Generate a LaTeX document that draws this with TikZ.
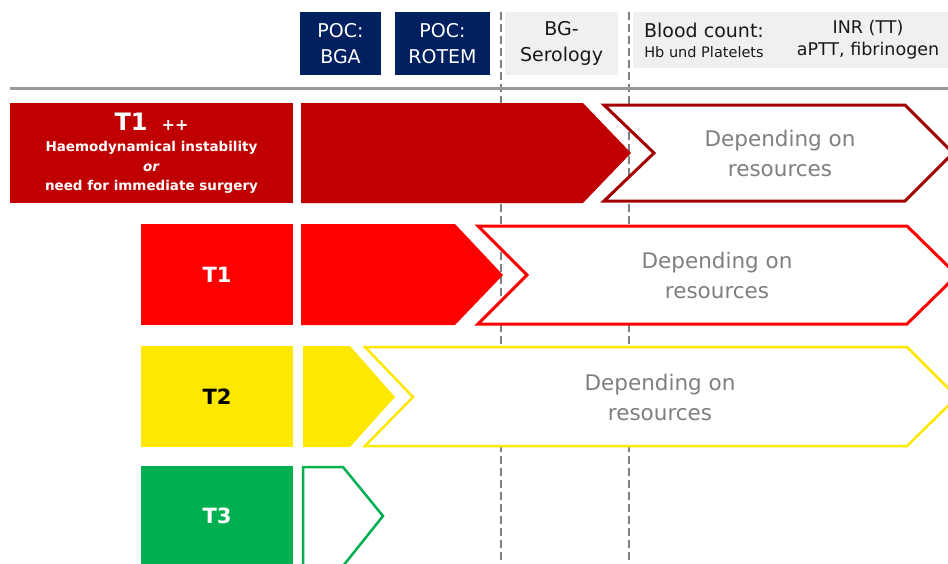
\documentclass[tikz,border=0pt]{standalone}
\usepackage{fontspec}
\setmainfont{DejaVu Sans}
\usetikzlibrary{positioning}
\usepackage{xcolor}

\definecolor{pocblue}{HTML}{002060}
\definecolor{labgray}{HTML}{F0F0F0}
\definecolor{tdark}{HTML}{C00000}
\definecolor{tred}{HTML}{FF0000}
\definecolor{tyellow}{HTML}{FFE800}
\definecolor{tgreen}{HTML}{00B050}
\definecolor{restext}{HTML}{7F7F7F}

\begin{document}
\begin{tikzpicture}[
    x=1pt, y=-1pt,
    every node/.style={inner sep=0pt, align=center},
    pocbox/.style={fill=pocblue, text=white, minimum height=63pt, font=\fontsize{19}{26}\selectfont},
    labbox/.style={fill=labgray, text=black!90},
    tbox/.style={minimum height=101pt, font=\bfseries\fontsize{21}{24}\selectfont},
    restxt/.style={text=restext, font=\fontsize{21.5}{30}\selectfont},
    outarrow/.style={line width=3pt, fill=white, line join=miter}
]

\useasboundingbox (0,0) rectangle (948,563);
\clip (0,0) rectangle (948,563);

% Time marks (dashed)
\draw[restext, line width=2pt, dash pattern=on 8pt off 4pt] (501,12) -- (501,563);
\draw[restext, line width=2pt, dash pattern=on 8pt off 4pt] (629,12) -- (629,563);

% Diagnostics header
\node[pocbox, minimum width=81pt] (bga) at (340.5,43.5) {POC:\\BGA};
\node[pocbox, minimum width=95pt] (rotem) at (442.5,43.5) {POC:\\ROTEM};
\node[labbox, minimum width=113pt, minimum height=63pt, font=\fontsize{19}{26}\selectfont] (serology) at (561.5,43.5) {BG-\\Serology};
\node[labbox, minimum width=142pt, minimum height=56pt, font=\fontsize{14.5}{20}\selectfont] (bloodcount) at (704,40) {{\fontsize{19}{20}\selectfont Blood count:}\\Hb und Platelets};
\node[labbox, minimum width=186pt, minimum height=56pt, font=\fontsize{17.5}{22}\selectfont] (inr) at (868,40) {INR (TT)\\aPTT, fibrinogen};

% Separator line
\draw[black!40, line width=3pt] (10,88) -- (948,88);

% T1 ++ (dark red)
\node[tbox, fill=tdark, text=white, minimum width=283pt, minimum height=100pt, font=\bfseries\fontsize{13.5}{19.5}\selectfont] (tonepp) at (151.5,153) {%
    {\fontsize{24}{24}\selectfont T1\hspace{14pt}\fontsize{16}{16}\selectfont ++}\\[2pt]
    Haemodynamical instability\\
    \textit{or}\\
    need for immediate surgery};
\fill[tdark] (301,103) -- (583,103) -- (631,153) -- (583,203) -- (301,203) -- cycle;
\draw[outarrow, draw=tdark!85!black] (604,105) -- (905,105) -- (953,153) -- (905,201) -- (604,201) -- (654,153) -- cycle;
\node[restxt] (resone) at (780,153) {Depending on\\resources};

% T1 (red)
\node[tbox, fill=tred, text=white, minimum width=152pt] (tone) at (217,274.5) {T1};
\fill[tred] (301,224) -- (455,224) -- (503,275) -- (455,325) -- (301,325) -- cycle;
\draw[outarrow, draw=tred] (478,226) -- (907,226) -- (957,275) -- (907,324) -- (478,324) -- (527,275) -- cycle;
\node[restxt] (restwo) at (717,275) {Depending on\\resources};

% T2 (yellow)
\node[tbox, fill=tyellow, text=black, minimum width=152pt] (ttwo) at (217,396.5) {T2};
\fill[tyellow] (303,346) -- (350,346) -- (395,397) -- (350,447) -- (303,447) -- cycle;
\draw[outarrow, line width=2.5pt, draw=tyellow] (365,347) -- (907,347) -- (957,397) -- (907,446) -- (365,446) -- (413,397) -- cycle;
\node[restxt] (resthree) at (660,397) {Depending on\\resources};

% T3 (green)
\node[tbox, fill=tgreen, text=white, minimum width=152pt, minimum height=100pt] (tthree) at (217,516) {T3};
\draw[outarrow, line width=2.5pt, draw=tgreen] (303,467) -- (343,467) -- (383,516) -- (343,566) -- (303,566) -- cycle;

\end{tikzpicture}
\end{document}
